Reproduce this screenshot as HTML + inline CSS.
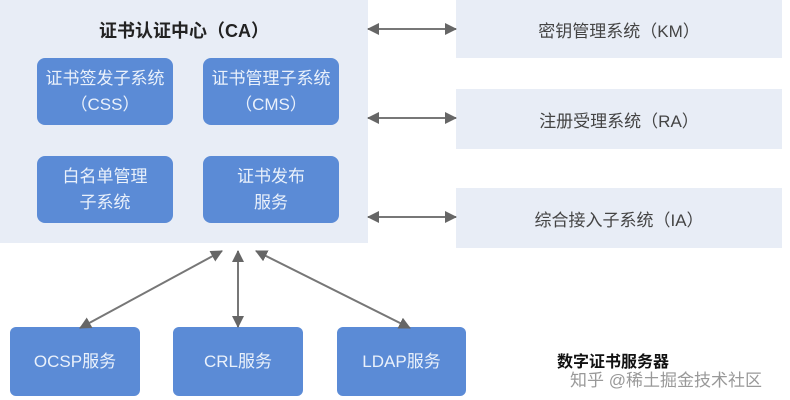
<!DOCTYPE html>
<html><head><meta charset="utf-8"><style>
body{margin:0;width:790px;height:400px;background:#fff;position:relative;overflow:hidden;font-family:"Liberation Sans","Noto Sans CJK SC",sans-serif}
.a{position:absolute}
.bl{position:absolute;background:#5b8bd6;border-radius:8px;color:#eaf1fb;font-size:17px;display:flex;align-items:center;justify-content:center;text-align:center;line-height:26px}
.rb{position:absolute;left:456px;width:326px;background:#e8edf6;color:#444;font-size:17px;display:flex;align-items:center;justify-content:center}
</style></head><body>
<div class="a" style="left:0;top:0;width:368px;height:243px;background:#e8edf6"></div>
<div class="a" style="left:0;top:17px;width:368px;text-align:center;font-size:18px;font-weight:bold;color:#222">证书认证中心（CA）</div>
<div class="bl" style="left:37px;top:58px;width:136px;height:67px">证书签发子系统<br>（CSS）</div>
<div class="bl" style="left:203px;top:58px;width:136px;height:67px">证书管理子系统<br>（CMS）</div>
<div class="bl" style="left:37px;top:156px;width:136px;height:67px">白名单管理<br>子系统</div>
<div class="bl" style="left:203px;top:156px;width:136px;height:67px">证书发布<br>服务</div>
<div class="rb" style="top:0;height:58px">密钥管理系统（KM）</div>
<div class="rb" style="top:89px;height:60px">注册受理系统（RA）</div>
<div class="rb" style="top:188px;height:60px">综合接入子系统（IA）</div>
<div class="bl" style="left:10px;top:327px;width:130px;height:69px;border-radius:6px">OCSP服务</div>
<div class="bl" style="left:173px;top:327px;width:130px;height:69px;border-radius:6px">CRL服务</div>
<div class="bl" style="left:337px;top:327px;width:129px;height:69px;border-radius:6px">LDAP服务</div>
<svg class="a" style="left:0;top:0" width="790" height="400">
<defs><marker id="m" markerWidth="12" markerHeight="12" refX="11" refY="6" orient="auto-start-reverse" markerUnits="userSpaceOnUse"><path d="M0,0L12,6L0,12z" fill="#666"/></marker></defs>
<g stroke="#777" stroke-width="2" marker-start="url(#m)" marker-end="url(#m)">
<line x1="368" y1="29" x2="456" y2="29"/>
<line x1="368" y1="118" x2="456" y2="118"/>
<line x1="368" y1="217" x2="456" y2="217"/>
<line x1="222" y1="251" x2="80" y2="328"/>
<line x1="238" y1="251" x2="238" y2="327"/>
<line x1="256" y1="251" x2="410" y2="328"/>
</g></svg>
<div class="a" style="left:557px;top:348px;font-size:16px;font-weight:bold;color:#111">数字证书服务器</div>
<div class="a" style="left:570px;top:366px;font-size:17px;color:#999">知乎 @稀土掘金技术社区</div>
</body></html>
